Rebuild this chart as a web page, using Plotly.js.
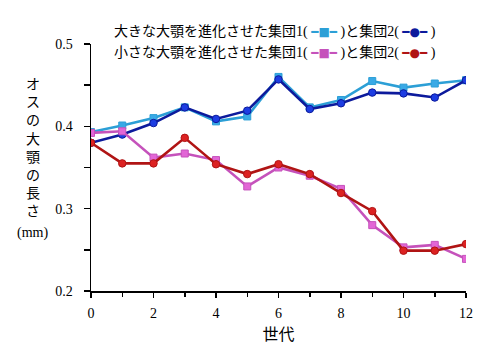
<!DOCTYPE html>
<html>
<head>
<meta charset="utf-8">
<script src="https://cdn.plot.ly/plotly-3.0.1.min.js"></script>
<style>html,body{margin:0;padding:0;background:#fff;}</style>
</head>
<body>
<div id="chart" style="width:500px;height:353px;"></div>
<script>
// Generations
const generations = [0,1,2,3,4,5,6,7,8,9,10,11,12];
// Large-mandible selected lines
const largeGroup1 = [0.393,0.401,0.410,0.423,0.406,0.412,0.460,0.423,0.432,0.455,0.447,0.452,0.456];
const largeGroup2 = [0.380,0.390,0.404,0.423,0.409,0.419,0.457,0.421,0.428,0.441,0.440,0.435,0.456];
// Small-mandible selected lines
const smallGroup1 = [0.392,0.394,0.362,0.367,0.359,0.327,0.350,0.340,0.324,0.280,0.253,0.256,0.239];
const smallGroup2 = [0.380,0.355,0.355,0.386,0.354,0.342,0.354,0.342,0.319,0.297,0.249,0.249,0.257];

const yTickVals = [0.2,0.3,0.4,0.5];
const yTickText = ['0.2','0.3','0.4','0.5'];
const xTickVals = [0,2,4,6,8,10,12];
const xTickText = ['0','2','4','6','8','10','12'];

const legendLine1 = '大きな大顎を進化させた集団';
const legendLine2 = '小さな大顎を進化させた集団';
const yTitleChars = ['オ','ス','の','大','顎','の','長','さ'];
const yUnit = '(mm)';
const xTitle = '世代';

const C = {
  lb: '#2c9fd6', lbM: '#39a9e6',
  db: '#0c1a9c', dbM: '#1d3de2',
  pk: '#c552bb', pkM: '#e266d6',
  rd: '#b01414', rdM: '#dc2222'
};

function tr(y, line, mcol, sym){
  return {x: generations, y: y, type:'scatter', mode:'lines+markers',
    line:{color:line, width:2.6},
    marker:{symbol:sym, size: sym==='square'?7:7.5, color:mcol, line:{color:line, width:1}},
    showlegend:false, hoverinfo:'skip'};
}

const data = [
  tr(largeGroup1, C.lb, C.lbM, 'square'),
  tr(largeGroup2, C.db, C.dbM, 'circle'),
  tr(smallGroup1, C.pk, C.pkM, 'square'),
  tr(smallGroup2, C.rd, C.rdM, 'circle')
];

const serif = "font-family:'Liberation Serif'";
const glyphFont = "font-family:'DejaVu Sans';font-size:12px";
function legendText(prefix, c1, c2){
  return prefix +
    "<span style=\"" + serif + "\">1( </span>" +
    "<span style=\"color:" + c1 + ";" + glyphFont + "\">━■━</span>" +
    "<span style=\"" + serif + "\"> )</span>と集団" +
    "<span style=\"" + serif + "\">2( </span>" +
    "<span style=\"color:" + c2 + ";" + glyphFont + "\">━●━</span>" +
    "<span style=\"" + serif + "\"> )</span>";
}

const annotations = [
  {xref:'paper', yref:'paper', x:0.056, y:1.057, xanchor:'left', yanchor:'middle', showarrow:false,
   text: legendText(legendLine1, C.lb, C.db), font:{family:'Noto Sans CJK JP', size:14, color:'#000'}},
  {xref:'paper', yref:'paper', x:0.056, y:0.972, xanchor:'left', yanchor:'middle', showarrow:false,
   text: legendText(legendLine2, C.pk, C.rd), font:{family:'Noto Sans CJK JP', size:14, color:'#000'}},
  {xref:'paper', yref:'paper', x:-0.155, y:0.235, xanchor:'center', yanchor:'middle', showarrow:false,
   text: yUnit, font:{family:'Liberation Serif', size:14, color:'#000'}},
  {xref:'paper', yref:'paper', x:-0.155, y:0.585, xanchor:'center', yanchor:'middle', showarrow:false,
   text: yTitleChars.join('<br>'), font:{family:'Noto Sans CJK JP', size:14, color:'#000'}}
];

const layout = {
  width:500, height:353,
  margin:{l:91, r:34, t:44, b:62},
  paper_bgcolor:'#fff', plot_bgcolor:'#fff',
  xaxis:{range:[0,12], tickvals:xTickVals, ticktext:xTickText, ticks:'outside', ticklen:5, tickwidth:1.5,
    tickcolor:'#000', showline:true, linecolor:'#000', linewidth:1.5, showgrid:false, zeroline:false,
    minor:{dtick:1, ticks:'outside', ticklen:4, tickcolor:'#000', tickwidth:1.5},
    tickfont:{family:'Liberation Serif', size:14, color:'#000'}, ticklabelstandoff:4,
    title:{text:xTitle, font:{family:'Noto Sans CJK JP', size:16, color:'#000'}, standoff:4}},
  yaxis:{range:[0.2,0.5], tickvals:yTickVals, ticktext:yTickText, ticks:'outside', ticklen:6, tickwidth:1.5,
    tickcolor:'#000', showline:true, linecolor:'#000', linewidth:1.5, showgrid:false, zeroline:false,
    minor:{dtick:0.05, ticks:'outside', ticklen:6, tickcolor:'#000', tickwidth:1.5},
    tickfont:{family:'Liberation Serif', size:14, color:'#000'}, ticklabelstandoff:8},
  annotations: annotations
};

Plotly.newPlot('chart', data, layout, {displayModeBar:false, staticPlot:true});
</script>
</body>
</html>
